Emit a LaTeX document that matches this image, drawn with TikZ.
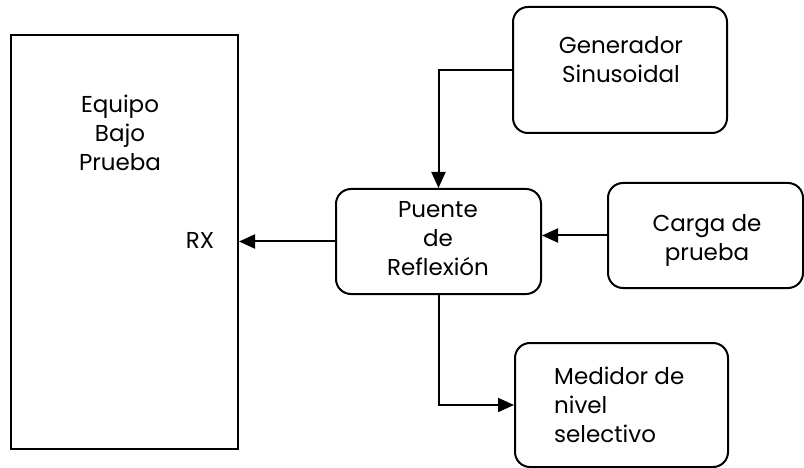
\documentclass[tikz,border=0pt]{standalone}
\usepackage{fontspec}
\setmainfont{Poppins}
\usetikzlibrary{arrows.meta,positioning}

\begin{document}
\begin{tikzpicture}[x=1pt, y=-1pt,
	box/.style={draw, line width=2pt, rounded corners=15pt, inner sep=0pt},
	txt/.style={align=center, inner sep=0pt, font=\fontsize{23}{29}\selectfont},
	conn/.style={line width=2pt, -{Triangle[length=16pt, width=14pt]}}]
	\useasboundingbox (0,0) rectangle (804,468);
	% blocks
	\node[box, sharp corners, minimum width=227pt, minimum height=414pt] (eut) at (124.5, 242) {};
	\node[box, minimum width=214pt, minimum height=126pt] (gen) at (620, 70) {};
	\node[box, minimum width=205pt, minimum height=105pt] (puente) at (438.5, 241.5) {};
	\node[box, minimum width=195pt, minimum height=105pt] (carga) at (705.5, 235.5) {};
	\node[box, minimum width=213pt, minimum height=124pt] (medidor) at (621.5, 405) {};
	
	% labels
	\node[txt] (eutlbl) at (120, 133) {Equipo\\Bajo\\Prueba};
	\node[txt] (rx) at (200, 240) {RX};
	\node[txt] (genlbl) at (621, 60) {Generador\\Sinusoidal};
	\node[txt] (puentelbl) at (438, 239) {Puente\\de\\Reflexión};
	\node[txt] (cargalbl) at (707, 240) {Carga de\\prueba};
	\node[txt, align=left, anchor=west] (medlbl) at (554, 405) {Medidor de\\nivel\\selectivo};
	
	% connectors
	\draw[conn] (puente.west) -- (puente.west -| eut.east);
	\draw[conn] (gen.west) -| (puente.north);
	\draw[conn] (carga.west) -- (carga.west -| puente.east);
	\draw[conn] (puente.south) |- (medidor.west);
\end{tikzpicture}
\end{document}
